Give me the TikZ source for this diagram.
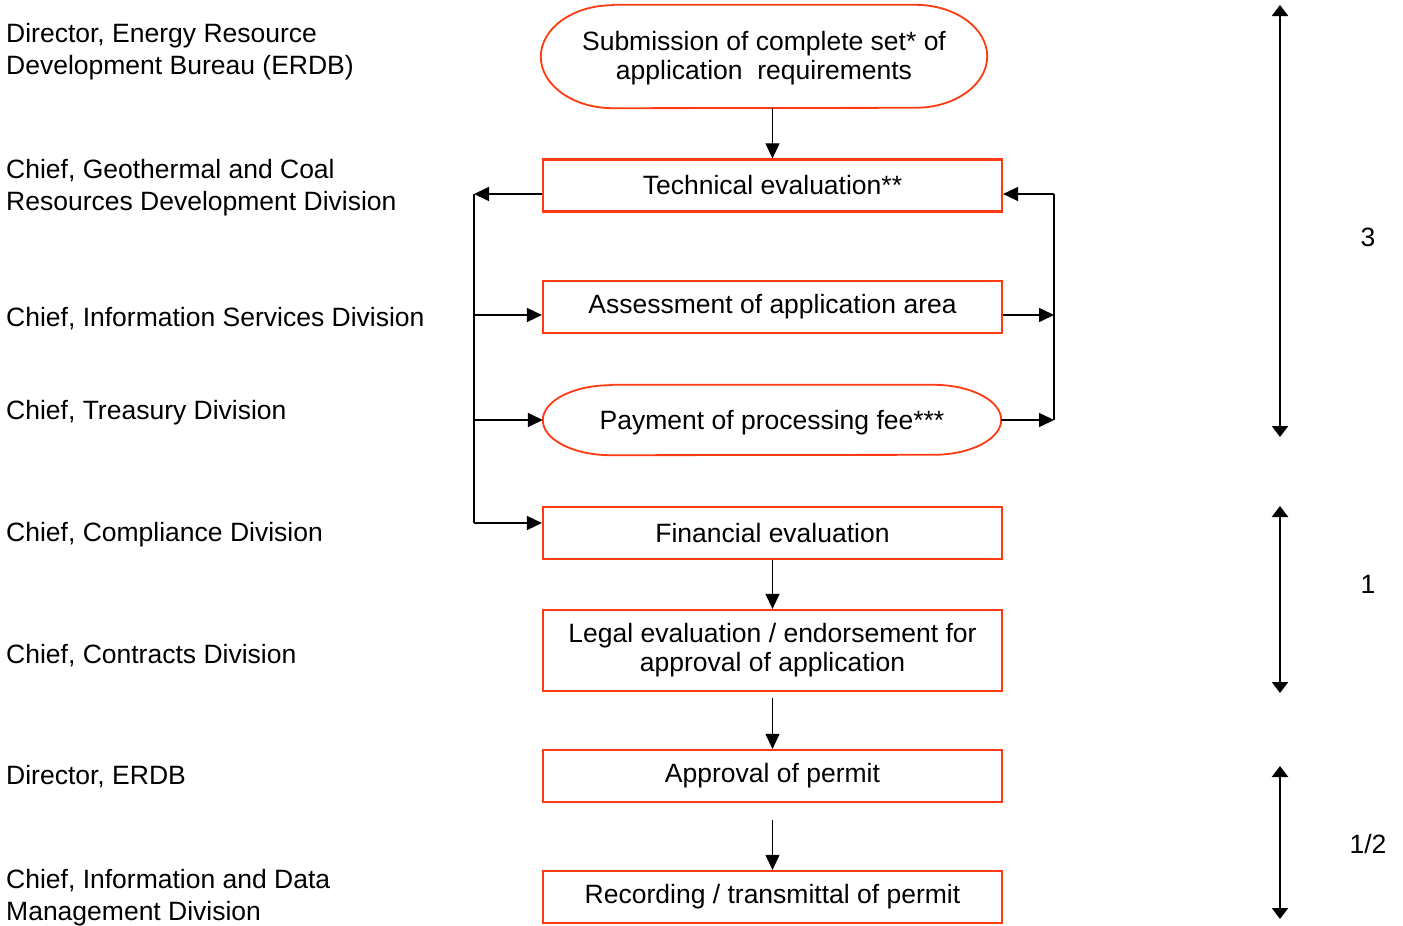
\documentclass[tikz,border=0pt]{standalone}
\usepackage{fontspec}
\setmainfont{Liberation Sans}
\usetikzlibrary{arrows.meta}
\definecolor{boxred}{HTML}{FF3A10}
\begin{document}
\begin{tikzpicture}[x=1pt,y=-1pt,
  every node/.style={font=\fontsize{26.5}{32}\selectfont},
  lbl/.style={anchor=west, align=left, inner sep=0pt},
  stepbox/.style={draw=boxred, line width=2.2pt, minimum width=459pt, minimum height=52pt, inner sep=0pt, align=center, font=\fontsize{26.5}{29}\selectfont},
  roundbox/.style={minimum width=#1, inner sep=0pt, align=center, font=\fontsize{26.5}{29}\selectfont},
  redline/.style={draw=boxred, line width=1.8pt},
  flow/.style={draw=black, line width=1pt, -{Triangle[length=15pt,width=14pt]}},
  side/.style={draw=black, line width=1.6pt},
  sidearrow/.style={side, -{Triangle[length=15pt,width=14pt]}},
  span/.style={draw=black, line width=2.4pt, {Triangle[length=11pt,width=16pt]}-{Triangle[length=11pt,width=16pt]}}
]
\useasboundingbox (0,0) rectangle (1403,926);

% left role labels
\node[lbl] (r1) at (6,52) {Director, Energy Resource\\Development Bureau (ERDB)};
\node[lbl] (r2) at (6,188) {Chief, Geothermal and Coal\\Resources Development Division};
\node[lbl] (r3) at (6,318.5) {Chief, Information Services Division};
\node[lbl] (r4) at (6,412.5) {Chief, Treasury Division};
\node[lbl] (r5) at (6,534.5) {Chief, Compliance Division};
\node[lbl] (r6) at (6,655.5) {Chief, Contracts Division};
\node[lbl] (r7) at (6,776.5) {Director, ERDB};
\node[lbl] (r8) at (6,898) {Chief, Information and Data\\Management Division};

% flow nodes
\node[roundbox=446pt, minimum height=103pt] (sub) at (764,58.5) {Submission of complete set* of\\application\ \ requirements};
\draw[redline] ([xshift=72pt,yshift=2pt]sub.north west) -- ([xshift=-72pt,yshift=2pt]sub.north east)
  arc[start angle=90, end angle=-90, x radius=72pt, y radius=51.5pt]
  -- ([xshift=72pt,yshift=2pt]sub.south west)
  arc[start angle=270, end angle=90, x radius=72pt, y radius=51.5pt] -- cycle;

\node[stepbox] (tech) at (772.5,185.5) {Technical evaluation**};
\node[stepbox] (assess) at (772.5,307) {Assessment of application area};

\node[roundbox=458pt, minimum height=70pt] (pay) at (772,423) {Payment of processing fee***};
\draw[redline] ([xshift=68pt,yshift=3pt]pay.north west) -- ([xshift=-68pt,yshift=3pt]pay.north east)
  arc[start angle=90, end angle=-90, x radius=68pt, y radius=35pt]
  -- ([xshift=68pt,yshift=3pt]pay.south west)
  arc[start angle=270, end angle=90, x radius=68pt, y radius=35pt] -- cycle;

\node[stepbox] (fin) at (772.5,533) {Financial evaluation};
\node[stepbox, minimum height=81pt] (legal) at (772.5,650.5) {Legal evaluation / endorsement for\\approval of application};
\node[stepbox] (appr) at (772.5,776) {Approval of permit};
\node[stepbox] (rec) at (772.5,897) {Recording / transmittal of permit};

% main vertical flow
\coordinate (c0) at (772.5,108);
\draw[flow] (c0) -- (tech.north);
\draw[flow] (fin.south) -- (legal.north);
\coordinate (c1) at (772.5,698);
\coordinate (c2) at (772.5,820);
\draw[flow] (c1) -- (appr.north);
\draw[flow] (c2) -- (rec.north);

% left loop
\coordinate (L1) at (474,194);
\coordinate (L2) at (474,315);
\coordinate (L3) at (474,420);
\coordinate (L4) at (474,523);
\draw[sidearrow] (tech.west |- L1) -- (L1);
\draw[side] (L1) -- (L4);
\draw[sidearrow] (L2) -- (assess.west |- L2);
\draw[sidearrow] (L3) -- (pay.west |- L3);
\draw[sidearrow] (L4) -- (fin.west |- L4);

% right loop
\coordinate (R1) at (1054,194);
\coordinate (R2) at (1054,315);
\coordinate (R3) at (1054,420);
\draw[sidearrow] (assess.east |- R2) -- (R2);
\draw[sidearrow] (pay.east |- R3) -- (R3);
\draw[side] (R3) -- (R1);
\draw[sidearrow] (R1) -- (tech.east |- R1);

% duration spans
\coordinate (s1t) at (1280,5);
\coordinate (s1b) at (1280,437);
\coordinate (s2t) at (1280,506);
\coordinate (s2b) at (1280,693);
\coordinate (s3t) at (1280,766);
\coordinate (s3b) at (1280,919);
\draw[span] (s1t) -- (s1b);
\draw[span] (s2t) -- (s2b);
\draw[span] (s3t) -- (s3b);
\node (d1) at (1368,237) {3};
\node (d2) at (1368,584) {1};
\node (d3) at (1368,844) {1/2};
\end{tikzpicture}
\end{document}
